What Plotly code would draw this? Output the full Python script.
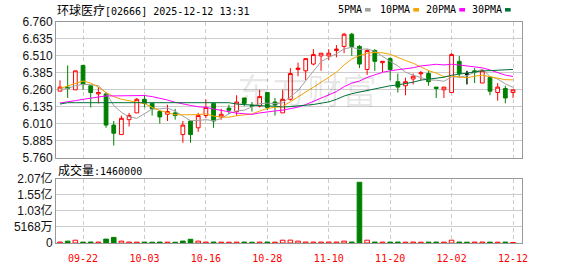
import plotly.graph_objects as go

# ---------------- data ----------------
dates = ["09-17", "09-18", "09-19", "09-22", "09-23", "09-24", "09-25", "09-26", "09-29", "09-30",
         "10-02", "10-03", "10-06", "10-08", "10-09", "10-10", "10-13", "10-14", "10-15", "10-16",
         "10-17", "10-20", "10-21", "10-22", "10-23", "10-24", "10-27", "10-28", "10-30", "10-31",
         "11-03", "11-04", "11-05", "11-06", "11-07", "11-10", "11-11", "11-12", "11-13", "11-14",
         "11-17", "11-18", "11-19", "11-20", "11-21", "11-24", "11-25", "11-26", "11-27", "11-28",
         "12-01", "12-02", "12-03", "12-04", "12-05", "12-08", "12-09", "12-10", "12-11", "12-12"]

opens = [6.25, 6.28, 6.26, 6.44, 6.29, 6.23, 6.23, 6.00, 5.93, 6.04,
         6.09, 6.19, 6.16, 6.10, 6.08, 6.09, 5.93, 6.03, 5.98, 6.07,
         6.16, 6.06, 6.125, 6.10, 6.20, 6.145, 6.14, 6.24, 6.17, 6.09,
         6.19, 6.41, 6.40, 6.45, 6.51, 6.51, 6.55, 6.58, 6.67, 6.58,
         6.41, 6.55, 6.46, 6.49, 6.32, 6.29, 6.34, 6.378, 6.38, 6.28,
         6.26, 6.24, 6.47, 6.375, 6.40, 6.31, 6.35, 6.24, 6.27, 6.24]
highs = [6.33, 6.44, 6.40, 6.44, 6.29, 6.28, 6.24, 6.03, 6.07, 6.09,
         6.20, 6.22, 6.16, 6.11, 6.15, 6.12, 6.03, 6.03, 6.09, 6.19,
         6.16, 6.12, 6.15, 6.22, 6.20, 6.17, 6.26, 6.24, 6.20, 6.26,
         6.42, 6.46, 6.49, 6.56, 6.53, 6.56, 6.59, 6.68, 6.68, 6.59,
         6.56, 6.56, 6.47, 6.50, 6.38, 6.35, 6.38, 6.40, 6.40, 6.28,
         6.28, 6.53, 6.51, 6.40, 6.42, 6.41, 6.36, 6.31, 6.29, 6.26]
lows = [6.25, 6.20, 6.26, 6.26, 6.13, 6.16, 5.98, 5.85, 5.93, 5.99,
        6.09, 6.13, 6.07, 6.01, 6.03, 6.04, 5.87, 5.87, 5.95, 6.05,
        5.98, 6.04, 6.08, 6.07, 6.14, 6.10, 6.13, 6.11, 6.07, 6.09,
        6.18, 6.36, 6.33, 6.44, 6.40, 6.48, 6.50, 6.53, 6.51, 6.42,
        6.37, 6.40, 6.39, 6.33, 6.24, 6.22, 6.30, 6.33, 6.29, 6.20,
        6.20, 6.24, 6.35, 6.30, 6.31, 6.31, 6.22, 6.18, 6.16, 6.20]
closes = [6.28, 6.27, 6.40, 6.30, 6.24, 6.24, 6.00, 5.94, 6.05, 6.07,
          6.19, 6.16, 6.12, 6.06, 6.10, 6.07, 6.00, 5.93, 6.07, 6.13,
          6.03, 6.08, 6.11, 6.17, 6.16, 6.14, 6.21, 6.13, 6.15, 6.19,
          6.38, 6.42, 6.49, 6.52, 6.53, 6.53, 6.56, 6.67, 6.58, 6.45,
          6.55, 6.47, 6.47, 6.41, 6.28, 6.32, 6.36, 6.385, 6.32, 6.27,
          6.28, 6.52, 6.38, 6.375, 6.39, 6.40, 6.25, 6.28, 6.20, 6.26]
volumes = [3.0e6, 6.0e6, 9.0e6, 2.8e6, 3.1e6, 2.9e6, 12.5e6, 18.0e6, 6.0e6, 3.0e6,
           2.7e6, 2.9e6, 2.6e6, 3.0e6, 2.8e6, 2.5e6, 6.2e6, 12.0e6, 6.0e6, 2.9e6,
           3.1e6, 2.7e6, 2.6e6, 2.8e6, 3.0e6, 2.5e6, 2.9e6, 3.2e6, 2.7e6, 9.0e6,
           9.2e6, 6.0e6, 3.0e6, 2.9e6, 2.8e6, 3.1e6, 3.0e6, 6.0e6, 3.2e6, 194.6e6,
           9.0e6, 3.0e6, 2.8e6, 2.9e6, 3.1e6, 2.7e6, 3.0e6, 2.6e6, 2.9e6, 3.0e6,
           2.8e6, 9.0e6, 3.0e6, 2.7e6, 2.9e6, 3.1e6, 2.8e6, 2.6e6, 2.9e6, 1.46e6]

# moving-average values before enough history is on screen
ma5_head = [6.26, 6.27, 6.29, 6.30]
ma10_head = [6.27, 6.29, 6.31, 6.325, 6.31, 6.28, 6.24, 6.21, 6.19]
ma20_head = [6.163, 6.17, 6.18, 6.19, 6.20, 6.21, 6.215, 6.215, 6.215, 6.218,
             6.22, 6.218, 6.21, 6.20, 6.185, 6.168, 6.155, 6.145, 6.135]
ma30_head = [6.155, 6.165, 6.165, 6.165, 6.165, 6.165, 6.16, 6.16, 6.16, 6.16,
             6.16, 6.165, 6.165, 6.165, 6.165, 6.165, 6.165, 6.165, 6.165, 6.165,
             6.165, 6.165, 6.165, 6.155, 6.15, 6.15, 6.14, 6.14, 6.14]

tick_dates = ["09-22", "10-03", "10-16", "10-28", "11-10", "11-20", "12-02", "12-12"]
price_ticks = [5.760, 5.885, 6.010, 6.135, 6.260, 6.385, 6.510, 6.635, 6.760]
vol_ticks = [0, 51.68e6, 103.36e6, 155.04e6, 206.72e6]
vol_ticktext = ["0", "5168万", "1.03亿", "1.55亿", "2.07亿"]
ma_names = ["5PMA", "10PMA", "20PMA", "30PMA"]
ma_colors = ["#a0a0a0", "#f5a300", "#ff00ff", "#00703a"]
title_name = "环球医疗"
title_rest = "[02666] 2025-12-12 13:31"
vol_label = "成交量"
vol_current = "1460000"


def moving_avg(vals, n, head):
    out = list(head)
    for i in range(len(head), len(vals)):
        w = vals[i - n + 1:i + 1]
        out.append(sum(w) / n)
    return out


ma5 = moving_avg(closes, 5, ma5_head)
ma10 = moving_avg(closes, 10, ma10_head)
ma20 = moving_avg(closes, 20, ma20_head)
ma30 = moving_avg(closes, 30, ma30_head)

RED = "#ff0000"
GREEN = "#008000"

vol_up = []
for i in range(len(closes)):
    ref = closes[i - 1] if i > 0 else opens[i]
    vol_up.append(closes[i] >= ref)
vol_fill = ["white" if u else GREEN for u in vol_up]
vol_line = [RED if u else GREEN for u in vol_up]

# ---------------- figure ----------------
W, H = 578, 276
L, R, T, B = 56, 522, 22, 255  # plot region in px


def px(x):
    return (x - L) / (R - L)


def py(y):
    return (B - y) / (B - T)


fig = go.Figure()

fig.add_trace(go.Candlestick(
    x=dates, open=opens, high=highs, low=lows, close=closes,
    increasing=dict(line=dict(color=RED, width=1), fillcolor="white"),
    decreasing=dict(line=dict(color=GREEN, width=1), fillcolor=GREEN),
    whiskerwidth=0, xaxis="x", yaxis="y", hoverinfo="skip"))

# doji candles drawn in black
doji_idx = [i for i in range(len(closes)) if abs(closes[i] - opens[i]) < 1e-9]
if doji_idx:
    fig.add_trace(go.Candlestick(
        x=[dates[i] for i in doji_idx], open=[opens[i] for i in doji_idx],
        high=[highs[i] for i in doji_idx], low=[lows[i] for i in doji_idx],
        close=[closes[i] for i in doji_idx],
        increasing=dict(line=dict(color="black", width=1), fillcolor="black"),
        decreasing=dict(line=dict(color="black", width=1), fillcolor="black"),
        whiskerwidth=0, xaxis="x", yaxis="y", hoverinfo="skip"))

for name, vals, col in zip(ma_names, [ma5, ma10, ma20, ma30], ma_colors):
    fig.add_trace(go.Scatter(x=dates, y=vals, mode="lines", name=name,
                             line=dict(color=col, width=1), xaxis="x", yaxis="y",
                             hoverinfo="skip"))

fig.add_trace(go.Bar(x=dates, y=volumes, width=0.6,
                     marker=dict(color=vol_fill, line=dict(color=vol_line, width=1)),
                     xaxis="x2", yaxis="y2", hoverinfo="skip"))

grid = "#cccccc"
border = "#999999"
tickfont = dict(family="Liberation Sans, Arial, Noto Sans CJK SC", size=12, color="#111111")

main_top = 1.0
main_bot = py(165)
vol_top = py(187)

x_range = [-0.52, 60.17]

fig.update_layout(
    width=W, height=H,
    margin=dict(l=L, r=W - R, t=T, b=H - B, pad=0),
    paper_bgcolor="white", plot_bgcolor="white",
    showlegend=False, bargap=0.3,
    xaxis=dict(domain=[0, 1], anchor="y", type="category", range=x_range,
               tickmode="array", tickvals=tick_dates, showticklabels=False,
               showgrid=True, gridcolor=grid, gridwidth=1, griddash="4px,3px",
               showline=True, mirror=True, linecolor=border, linewidth=1,
               ticks="", rangeslider=dict(visible=False), zeroline=False),
    yaxis=dict(domain=[main_bot, main_top], anchor="x", range=[5.76, 6.76],
               tickmode="array", tickvals=price_ticks,
               ticktext=["%.3f" % v for v in price_ticks],
               tickfont=tickfont, showgrid=True, gridcolor=grid, gridwidth=1,
               showline=True, mirror=True, linecolor=border, linewidth=1,
               ticks="", zeroline=False),
    xaxis2=dict(domain=[0, 1], anchor="y2", type="category", range=x_range,
                tickmode="array", tickvals=tick_dates, ticktext=tick_dates,
                tickfont=dict(family="DejaVu Sans Mono", size=10, color=RED),
                ticklabelstandoff=6,
                showgrid=True, gridcolor=grid, gridwidth=1, griddash="4px,3px",
                showline=True, mirror=True, linecolor=border, linewidth=1,
                ticks="", zeroline=False),
    yaxis2=dict(domain=[0, vol_top], anchor="x2", range=[0, 206.72e6],
                tickmode="array", tickvals=vol_ticks, ticktext=vol_ticktext,
                tickfont=tickfont, showgrid=True, gridcolor=grid, gridwidth=1,
                showline=True, mirror=True, linecolor=border, linewidth=1,
                ticks="", zeroline=False),
)

cjk_span = "<span style=\"font-family:'Noto Sans CJK SC';font-size:12px\">%s</span>"
ann_font = dict(family="DejaVu Sans Mono", size=10, color="#000000")

annotations = [
    # watermark
    dict(text="东方财富", x=px(307), y=py(92), xref="paper", yref="paper",
         xanchor="center", yanchor="middle", showarrow=False,
         font=dict(family="Noto Sans CJK SC", size=35, color="rgba(0,0,0,0.09)"),
         borderpad=0, borderwidth=0),
    dict(text=(cjk_span % title_name) + title_rest, x=px(57), y=py(8.5),
         xref="paper", yref="paper", xanchor="left", yanchor="middle",
         showarrow=False, font=ann_font, borderpad=0, borderwidth=0),
    dict(text=(cjk_span % vol_label) + ":" + vol_current, x=px(58), y=py(177),
         xref="paper", yref="paper", xanchor="left", yanchor="middle",
         showarrow=False, font=ann_font, borderpad=0, borderwidth=0),
]
legend_x = [338, 380, 425.7, 471.7]
square_x = [365, 413.3, 459.3, 505]
shapes = []
for name, col, lx, sx in zip(ma_names, ma_colors, legend_x, square_x):
    annotations.append(dict(text=name, x=px(lx), y=py(8.5), xref="paper", yref="paper",
                            xanchor="left", yanchor="middle", showarrow=False,
                            font=ann_font, borderpad=0, borderwidth=0))
    shapes.append(dict(type="rect", xref="paper", yref="paper",
                       x0=px(sx), x1=px(sx + 5.7), y0=py(11), y1=py(7.3),
                       fillcolor=col, line=dict(width=0)))

fig.update_layout(annotations=annotations, shapes=shapes)

fig.write_html("out.html")
